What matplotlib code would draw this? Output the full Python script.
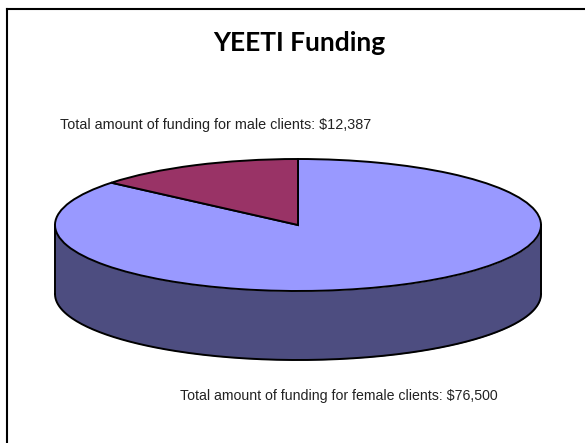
import numpy as np
import matplotlib
matplotlib.use("Agg")
import matplotlib.pyplot as plt
from matplotlib.transforms import Affine2D

# --- data ---
labels = ["Total amount of funding for female clients: $76,500",
          "Total amount of funding for male clients: $12,387"]
values = [76500, 12387]
colors = ["#9999FF", "#993366"]
title = "YEETI Funding"

# --- pie geometry, in image pixels ---
CX, CY, RX, RY, DEPTH = 298, 225, 243, 66, 69

fig = plt.figure(figsize=(5.85, 4.43), dpi=100)
ax = fig.add_axes([0, 0, 1, 1])

# side of the disc
t = np.linspace(0, np.pi, 200)
x = CX + RX * np.cos(t)
y = CY + RY * np.sin(t)
ax.fill_between(x, y, y + DEPTH, color="#4D4D80", lw=0, zorder=1)
ax.plot(x, y + DEPTH, color="black", lw=1.4, zorder=2)
ax.plot([CX - RX, CX - RX], [CY, CY + DEPTH], color="black", lw=1.4, zorder=2)
ax.plot([CX + RX, CX + RX], [CY, CY + DEPTH], color="black", lw=1.4, zorder=2)

# top of the disc: a unit pie squashed into the ellipse
wedges, _ = ax.pie(values, colors=colors, startangle=90, counterclock=False,
                   wedgeprops=dict(edgecolor="black", linewidth=1.4))
squash = Affine2D().scale(RX, -RY).translate(CX, CY) + ax.transData
for w in wedges:
    w.set_transform(squash)
    w.set_zorder(3)
ax.set_aspect("auto")
ax.set_xlim(0, 585)
ax.set_ylim(443, 0)
ax.axis("off")

# page frame, only left and top show
ax.plot([7, 7], [443, 9], color="black", lw=1.5, zorder=5, solid_capstyle="projecting")
ax.plot([7, 585], [9, 9], color="black", lw=1.5, zorder=5, solid_capstyle="projecting")

ax.text(299.5, 43, title, ha="center", va="center", fontsize=19, fontweight="bold",
        family="Lato", color="black")
ax.text(60, 125, labels[1], ha="left", va="center", fontsize=10.4,
        family="Liberation Sans", color="#222222")
ax.text(180, 396, labels[0], ha="left", va="center", fontsize=10.2,
        family="Liberation Sans", color="#222222")

fig.savefig("out.png", dpi=100)
